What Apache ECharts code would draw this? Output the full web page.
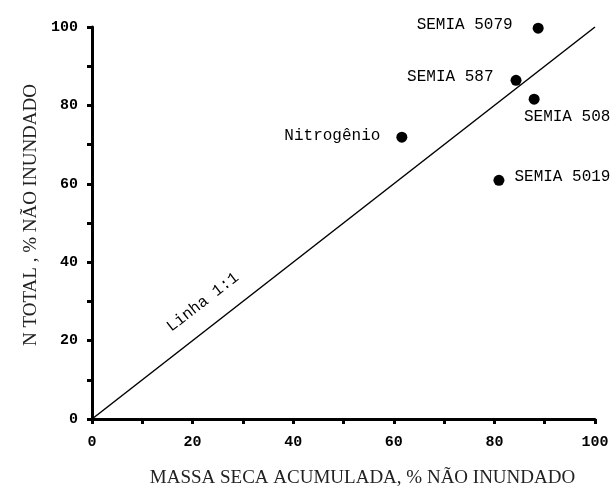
<!DOCTYPE html>
<html>
<head>
<meta charset="utf-8">
<script src="https://cdn.jsdelivr.net/npm/echarts@6/dist/echarts.min.js"></script>
<style>
html, body { margin: 0; padding: 0; background: #fff; }
#chart { width: 611px; height: 486px; }
</style>
</head>
<body>
<div id="chart"></div>
<script>
// pontos medidos
var names = ['SEMIA 5079', 'SEMIA 587', 'SEMIA 508', 'Nitrogênio', 'SEMIA 5019'];
var massaSeca = [88.7, 84.3, 87.9, 61.6, 80.9];
var nTotal = [99.7, 86.4, 81.6, 71.9, 60.9];

// linha 1:1
var lineX = [0, 100];
var lineY = [0, 100];

// onde fica cada rotulo
var labelPos = ['left', 'left', 'bottom', 'left', 'right'];
var labelDist = [20, 17, 4, 16, 10];
var labelOff = [[0, -3], [0, -4], [33, 0], [0, -1], [0, -4]];

var mono = '"Liberation Mono", "Courier New", monospace';
var serif = '"Liberation Serif", "Times New Roman", serif';

var pts = [];
for (var i = 0; i < names.length; i++) {
    pts.push({
        name: names[i],
        value: [massaSeca[i], nTotal[i]],
        label: {
            position: labelPos[i],
            distance: labelDist[i],
            offset: labelOff[i]
        }
    });
}

function axisCommon() {
    return {
        type: 'value',
        min: 0,
        max: 100,
        interval: 20,
        nameLocation: 'middle',
        nameTextStyle: { fontFamily: serif, fontSize: 19, color: '#222' },
        axisLine: { show: true, onZero: false, lineStyle: { color: '#000', width: 3 } },
        axisTick: { show: true, inside: false, length: 5, lineStyle: { color: '#000', width: 3 } },
        minorTick: { show: true, splitNumber: 2, length: 5, lineStyle: { color: '#000', width: 3 } },
        splitLine: { show: false },
        minorSplitLine: { show: false },
        axisLabel: { fontFamily: mono, fontWeight: 'bold', fontSize: 15, color: '#000' }
    };
}

var xAxis = axisCommon();
xAxis.name = 'MASSA SECA ACUMULADA, % NÃO INUNDADO';
xAxis.nameGap = 50;
xAxis.nameTextStyle.padding = [0, 0, 0, 38];
xAxis.axisLabel.margin = 16;

var yAxis = axisCommon();
yAxis.name = 'N TOTAL , % NÃO INUNDADO';
yAxis.nameGap = 50;
yAxis.nameTextStyle.padding = [0, 0, 0, 16];
yAxis.axisLabel.margin = 14;

var chart = echarts.init(document.getElementById('chart'));
var option = {
    backgroundColor: '#fff',
    animation: false,
    grid: { left: 92, right: 16, top: 27, bottom: 67, containLabel: false, outerBoundsMode: 'none' },
    xAxis: xAxis,
    yAxis: yAxis,
    series: [
        {
            type: 'scatter',
            symbol: 'circle',
            symbolSize: 11,
            itemStyle: { color: '#000', opacity: 1 },
            label: {
                show: true,
                formatter: '{b}',
                fontFamily: mono,
                fontSize: 16,
                color: '#000'
            },
            data: pts,
            z: 3,
            markLine: {
                silent: true,
                symbol: ['none', 'none'],
                lineStyle: { color: '#000', width: 1.5, type: 'solid', opacity: 1 },
                label: {
                    show: true,
                    formatter: 'Linha 1:1',
                    position: 'insideStartTop',
                    distance: [116, 16],
                    fontFamily: mono,
                    fontSize: 16,
                    color: '#000'
                },
                data: [[
                    { coord: [lineX[0], lineY[0]] },
                    { coord: [lineX[1], lineY[1]] }
                ]]
            }
        }
    ]
};
chart.setOption(option);
</script>
</body>
</html>
